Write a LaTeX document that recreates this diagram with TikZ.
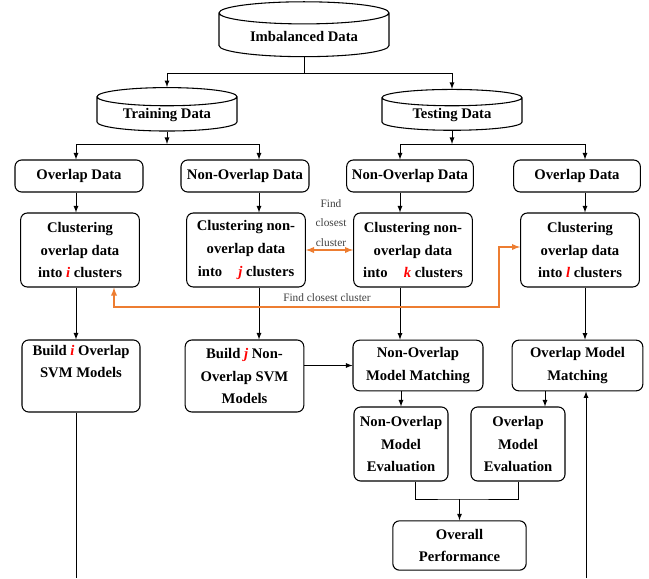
\documentclass[tikz,border=0pt]{standalone}
\usepackage{fontspec}
\setmainfont{Liberation Serif}
\usepackage{tikz}
\usetikzlibrary{shapes}
\usetikzlibrary{arrows}
\definecolor{findorange}{RGB}{237,125,49}
\newcommand{\rd}[1]{\textcolor{red}{\textit{#1}}}

\begin{document}
\begin{tikzpicture}[x=0.75pt,y=-0.75pt]
\tikzstyle{every node}=[font=\fontsize{11}{17}\selectfont\bfseries, align=center, inner sep=1pt]
\tikzstyle{box}=[draw, rounded corners=5pt, line width=0.8pt]
\tikzstyle{db}=[draw, cylinder, shape border rotate=90, aspect=0.2, line width=0.8pt]
\tikzstyle{arr}=[-latex, line width=0.7pt]
\tikzstyle{find}=[latex-latex, draw=findorange, line width=1.1pt]
\tikzstyle{findlbl}=[font=\fontsize{8.5}{14.5}\selectfont, text=black!75]
\useasboundingbox (0,0) rectangle (649,578);
% data sets
\node[db, minimum width=127.5pt, minimum height=37.5pt, inner ysep=4.8pt] (imb) at (304,36) {Imbalanced Data};
\node[db, minimum width=105pt, minimum height=30pt, inner ysep=1.5pt] (train) at (167,115) {Training Data};
\node[db, minimum width=105pt, minimum height=30pt, inner ysep=1.5pt] (test) at (452,115) {Testing Data};
% split
\node[box, minimum width=96pt, minimum height=24pt] (ovtr) at (79,176) {Overlap Data};
\node[box, minimum width=96pt, minimum height=24pt] (nontr) at (245,176) {Non-Overlap Data};
\node[box, minimum width=95pt, minimum height=24pt] (nonte) at (410,176) {Non-Overlap Data};
\node[box, minimum width=95pt, minimum height=24pt] (ovte) at (577,176) {Overlap Data};
% clustering
\node[box, minimum width=89pt, minimum height=55.5pt] (clusi) at (80,250) {Clustering\\overlap data\\into \rd{i} clusters};
\node[box, minimum width=89pt, minimum height=55.5pt] (clusj) at (246,250) {Clustering non-\\overlap data\\into\hspace{1.1em}\rd{j} clusters};
\node[box, minimum width=89pt, minimum height=55.5pt] (clusk) at (413,250) {Clustering non-\\overlap data\\into\hspace{1.1em}\rd{k} clusters};
\node[box, minimum width=89pt, minimum height=55.5pt] (clusl) at (580,250) {Clustering\\overlap data\\into \rd{l} clusters};
% models
\node[box, minimum width=88.5pt, minimum height=54pt] (buildi) at (81,376) {Build \rd{i} Overlap\\SVM Models\\\strut};
\node[box, minimum width=89pt, minimum height=54pt] (buildj) at (244.5,376) {Build \rd{j} Non-\\Overlap SVM\\Models};
\node[box, minimum width=97.5pt, minimum height=38pt] (nomm) at (418,365.5) {Non-Overlap\\Model Matching};
\node[box, minimum width=98pt, minimum height=38pt] (omm) at (577.5,365.5) {Overlap Model\\Matching};
\node[box, minimum width=70.5pt, minimum height=55.5pt] (noeval) at (401,444) {Non-Overlap\\Model\\Evaluation};
\node[box, minimum width=70.5pt, minimum height=55.5pt] (oeval) at (518,444) {Overlap\\Model\\Evaluation};
\node[box, minimum width=100pt, minimum height=37pt] (overall) at (459.5,545.5) {Overall\\Performance};
% labels
\node[findlbl] (fcc) at (327,298) {Find closest cluster};
\node[findlbl] (fcc2) at (331,223) {Find\\closest\\cluster};
% helper coordinates
\coordinate (xa) at (76,0);
\coordinate (xb) at (259,0);
\coordinate (xc) at (400,0);
\coordinate (xd) at (585,0);
\coordinate (xe) at (545,0);
\coordinate (j0) at (304,73);
\coordinate (j1) at (167,144);
\coordinate (j2) at (452,144);
\coordinate (j3) at (459.5,499);
\coordinate (endl) at (76,578);
\coordinate (endr) at (586,578);
\coordinate (fa) at (114,307);
\coordinate (fb) at (499,247);
% connectors
\draw[line width=0.7pt] (imb.south) -- (j0);
\draw[arr] (j0) -| (train.north);
\draw[arr] (j0) -| (test.north);
\draw[arr] (train.south) -- (j1);
\draw[arr] (test.south) -- (j2);
\draw[line width=0.7pt] (j1 -| xa) -- (j1 -| xb);
\draw[line width=0.7pt] (j2 -| xc) -- (j2 -| xd);
\draw[arr] (j1 -| xa) -- (ovtr.north -| xa);
\draw[arr] (j1 -| xb) -- (nontr.north -| xb);
\draw[arr] (j2 -| xc) -- (nonte.north -| xc);
\draw[arr] (j2 -| xd) -- (ovte.north -| xd);
\draw[arr] (ovtr.south -| xa) -- (clusi.north -| xa);
\draw[arr] (nontr.south -| xb) -- (clusj.north -| xb);
\draw[arr] (nonte.south -| xc) -- (clusk.north -| xc);
\draw[arr] (ovte.south -| xd) -- (clusl.north -| xd);
\draw[arr] (clusi.south -| xa) -- (buildi.north -| xa);
\draw[arr] (clusj.south -| xb) -- (buildj.north -| xb);
\draw[arr] (clusk.south -| xc) -- (nomm.north -| xc);
\draw[arr] (clusl.south -| xd) -- (omm.north -| xd);
\draw[arr] (buildj.east |- nomm.west) -- (nomm.west);
\draw[arr] (nomm.south -| noeval.north) -- (noeval.north);
\draw[arr] (omm.south -| xe) -- (oeval.north -| xe);
\draw[line width=0.7pt] ([xshift=11pt]noeval.south) |- (j3) -| (oeval.south);
\draw[arr] (j3) -- (overall.north);
\draw[line width=0.7pt] (buildi.south -| endl) -- (endl);
\draw[arr] (endr) -- (omm.south -| endr);
% closest cluster search
\draw[find] (clusj.east) -- (clusk.west);
\draw[find] (clusi.south -| fa) -- (fa) -| (fb) -- (clusl.west |- fb);
\end{tikzpicture}
\end{document}
